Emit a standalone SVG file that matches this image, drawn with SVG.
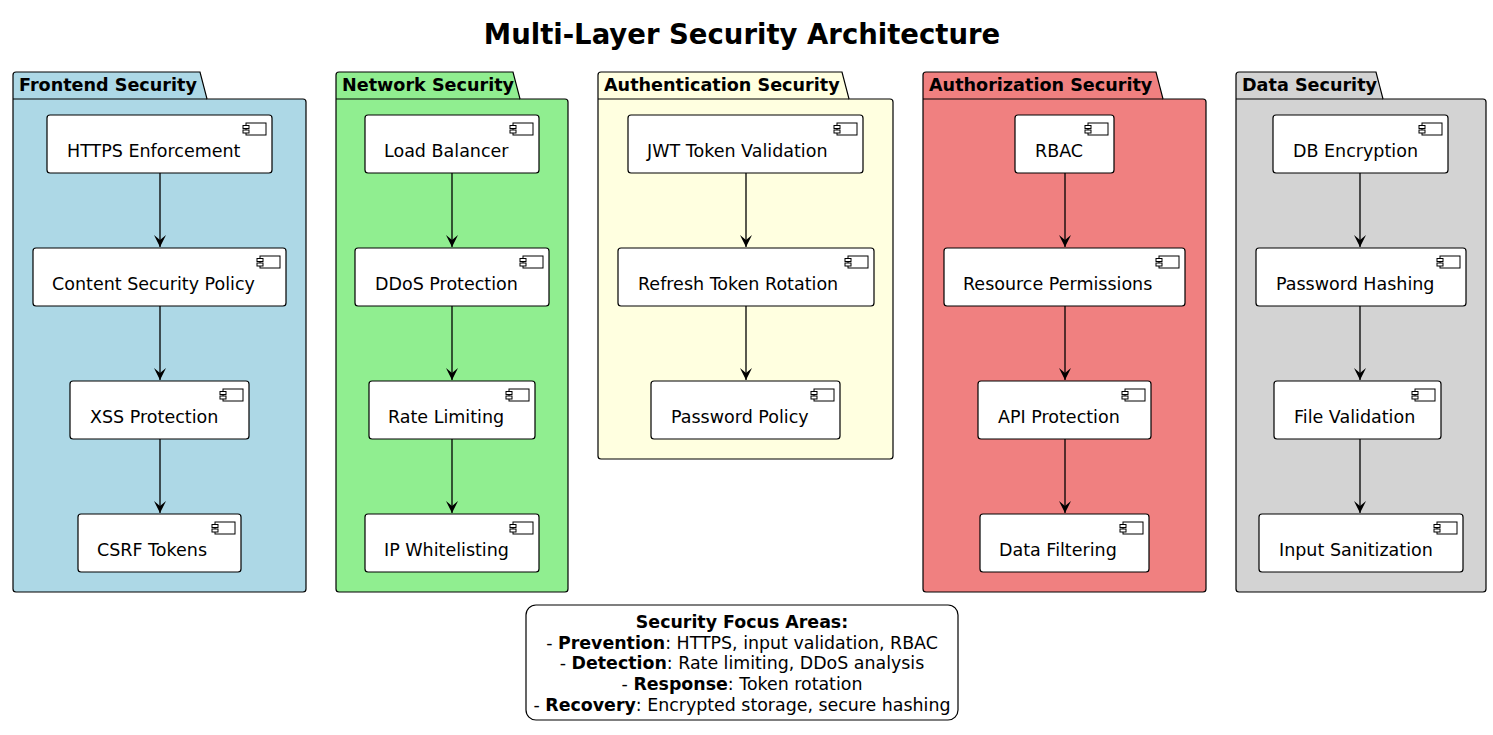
<svg xmlns="http://www.w3.org/2000/svg" width="1493" height="735" viewBox="0 0 1493 735">
<defs>
<style>
.pk{stroke:#000;stroke-width:1.2}
.pt{font-family:"DejaVu Sans",sans-serif;font-weight:bold;font-size:17.6px}
.nd{fill:#fff;stroke:#000;stroke-width:1.2}
.nt{font-family:"DejaVu Sans",sans-serif;font-size:17.5px}
.ic{fill:#fff;stroke:#000;stroke-width:1}
.cn{stroke:#000;stroke-width:1.3;fill:none}
.lg{font-family:"DejaVu Sans",sans-serif;font-size:17.4px;text-anchor:middle}
</style>
<marker id="ah" viewBox="0 0 12 12" refX="12" refY="6" markerWidth="12" markerHeight="12" markerUnits="userSpaceOnUse" orient="auto">
<path d="M0,0 L12,6 L0,12 L5,6 Z" fill="#000"/>
</marker>
<g id="icon"><rect class="ic" x="0" y="0" width="20" height="12"/><rect class="ic" x="-3" y="2.5" width="6" height="3"/><rect class="ic" x="-3" y="7" width="6" height="3"/></g>
</defs>
<rect width="1493" height="735" fill="#fff"/>
<text x="742" y="44" text-anchor="middle" font-family="DejaVu Sans,sans-serif" font-weight="bold" font-size="27.5">Multi-Layer Security Architecture</text>

<g id="pkg-frontend">
<path class="pk" fill="#ADD8E6" d="M16,72 L200,72 L207,99 L303,99 Q306,99 306,102 L306,589 Q306,592 303,592 L16,592 Q13,592 13,589 L13,75 Q13,72 16,72 Z"/>
<line class="pk" x1="13" y1="99" x2="207" y2="99"/>
<text class="pt" x="19" y="91">Frontend Security</text>
</g>
<g id="pkg-network">
<path class="pk" fill="#90EE90" d="M339,72 L513,72 L520,99 L565,99 Q568,99 568,102 L568,589 Q568,592 565,592 L339,592 Q336,592 336,589 L336,75 Q336,72 339,72 Z"/>
<line class="pk" x1="336" y1="99" x2="520" y2="99"/>
<text class="pt" x="342" y="91">Network Security</text>
</g>
<g id="pkg-auth">
<path class="pk" fill="#FFFFE0" d="M601,72 L842,72 L849,99 L890,99 Q893,99 893,102 L893,456 Q893,459 890,459 L601,459 Q598,459 598,456 L598,75 Q598,72 601,72 Z"/>
<line class="pk" x1="598" y1="99" x2="849" y2="99"/>
<text class="pt" x="604" y="91">Authentication Security</text>
</g>
<g id="pkg-authz">
<path class="pk" fill="#F08080" d="M926,72 L1156,72 L1163,99 L1203,99 Q1206,99 1206,102 L1206,589 Q1206,592 1203,592 L926,592 Q923,592 923,589 L923,75 Q923,72 926,72 Z"/>
<line class="pk" x1="923" y1="99" x2="1163" y2="99"/>
<text class="pt" x="929" y="91">Authorization Security</text>
</g>
<g id="pkg-data">
<path class="pk" fill="#D3D3D3" d="M1239,72 L1376,72 L1383,99 L1483,99 Q1486,99 1486,102 L1486,589 Q1486,592 1483,592 L1239,592 Q1236,592 1236,589 L1236,75 Q1236,72 1239,72 Z"/>
<line class="pk" x1="1236" y1="99" x2="1383" y2="99"/>
<text class="pt" x="1242" y="91">Data Security</text>
</g>

<g id="connectors">
<line class="cn" x1="160" y1="173" x2="160" y2="247" marker-end="url(#ah)"/>
<line class="cn" x1="160" y1="306" x2="160" y2="380" marker-end="url(#ah)"/>
<line class="cn" x1="160" y1="439" x2="160" y2="513" marker-end="url(#ah)"/>
<line class="cn" x1="452" y1="173" x2="452" y2="247" marker-end="url(#ah)"/>
<line class="cn" x1="452" y1="306" x2="452" y2="380" marker-end="url(#ah)"/>
<line class="cn" x1="452" y1="439" x2="452" y2="513" marker-end="url(#ah)"/>
<line class="cn" x1="746" y1="173" x2="746" y2="247" marker-end="url(#ah)"/>
<line class="cn" x1="746" y1="306" x2="746" y2="380" marker-end="url(#ah)"/>
<line class="cn" x1="1065" y1="173" x2="1065" y2="247" marker-end="url(#ah)"/>
<line class="cn" x1="1065" y1="306" x2="1065" y2="380" marker-end="url(#ah)"/>
<line class="cn" x1="1065" y1="439" x2="1065" y2="513" marker-end="url(#ah)"/>
<line class="cn" x1="1360" y1="173" x2="1360" y2="247" marker-end="url(#ah)"/>
<line class="cn" x1="1360" y1="306" x2="1360" y2="380" marker-end="url(#ah)"/>
<line class="cn" x1="1360" y1="439" x2="1360" y2="513" marker-end="url(#ah)"/>
</g>

<g id="n-https"><rect class="nd" x="47" y="115" width="225" height="58" rx="3"/><use href="#icon" x="246" y="123"/><text class="nt" x="67" y="157">HTTPS Enforcement</text></g>
<g id="n-csp"><rect class="nd" x="33" y="248" width="253" height="58" rx="3"/><use href="#icon" x="260" y="256"/><text class="nt" x="52" y="290">Content Security Policy</text></g>
<g id="n-xss"><rect class="nd" x="70" y="381" width="179" height="58" rx="3"/><use href="#icon" x="223" y="389"/><text class="nt" x="90" y="423">XSS Protection</text></g>
<g id="n-csrf"><rect class="nd" x="78" y="514" width="163" height="58" rx="3"/><use href="#icon" x="215" y="522"/><text class="nt" x="97" y="556">CSRF Tokens</text></g>

<g id="n-lb"><rect class="nd" x="365" y="115" width="174" height="58" rx="3"/><use href="#icon" x="513" y="123"/><text class="nt" x="384" y="157">Load Balancer</text></g>
<g id="n-ddos"><rect class="nd" x="355" y="248" width="194" height="58" rx="3"/><use href="#icon" x="523" y="256"/><text class="nt" x="375" y="290">DDoS Protection</text></g>
<g id="n-rate"><rect class="nd" x="369" y="381" width="166" height="58" rx="3"/><use href="#icon" x="509" y="389"/><text class="nt" x="388" y="423">Rate Limiting</text></g>
<g id="n-ip"><rect class="nd" x="365" y="514" width="174" height="58" rx="3"/><use href="#icon" x="513" y="522"/><text class="nt" x="384" y="556">IP Whitelisting</text></g>

<g id="n-jwt"><rect class="nd" x="628" y="115" width="235" height="58" rx="3"/><use href="#icon" x="837" y="123"/><text class="nt" x="647" y="157">JWT Token Validation</text></g>
<g id="n-refresh"><rect class="nd" x="618" y="248" width="256" height="58" rx="3"/><use href="#icon" x="848" y="256"/><text class="nt" x="638" y="290">Refresh Token Rotation</text></g>
<g id="n-pwpol"><rect class="nd" x="651" y="381" width="189" height="58" rx="3"/><use href="#icon" x="814" y="389"/><text class="nt" x="671" y="423">Password Policy</text></g>

<g id="n-rbac"><rect class="nd" x="1015" y="115" width="99" height="58" rx="3"/><use href="#icon" x="1088" y="123"/><text class="nt" x="1035" y="157">RBAC</text></g>
<g id="n-resperm"><rect class="nd" x="944" y="248" width="241" height="58" rx="3"/><use href="#icon" x="1159" y="256"/><text class="nt" x="963" y="290">Resource Permissions</text></g>
<g id="n-api"><rect class="nd" x="978" y="381" width="173" height="58" rx="3"/><use href="#icon" x="1125" y="389"/><text class="nt" x="998" y="423">API Protection</text></g>
<g id="n-filter"><rect class="nd" x="980" y="514" width="169" height="58" rx="3"/><use href="#icon" x="1123" y="522"/><text class="nt" x="999" y="556">Data Filtering</text></g>

<g id="n-dbenc"><rect class="nd" x="1273" y="115" width="175" height="58" rx="3"/><use href="#icon" x="1422" y="123"/><text class="nt" x="1293" y="157">DB Encryption</text></g>
<g id="n-pwhash"><rect class="nd" x="1256" y="248" width="210" height="58" rx="3"/><use href="#icon" x="1440" y="256"/><text class="nt" x="1276" y="290">Password Hashing</text></g>
<g id="n-file"><rect class="nd" x="1274" y="381" width="167" height="58" rx="3"/><use href="#icon" x="1415" y="389"/><text class="nt" x="1294" y="423">File Validation</text></g>
<g id="n-input"><rect class="nd" x="1259" y="514" width="204" height="58" rx="3"/><use href="#icon" x="1437" y="522"/><text class="nt" x="1279" y="556">Input Sanitization</text></g>

<g id="legend">
<rect x="526" y="605" width="432" height="115" rx="10" fill="#fff" stroke="#000" stroke-width="1.2"/>
<text class="lg" x="742" y="628" font-weight="bold">Security Focus Areas:</text>
<text class="lg" x="742" y="649">- <tspan font-weight="bold">Prevention</tspan>: HTTPS, input validation, RBAC</text>
<text class="lg" x="742" y="669">- <tspan font-weight="bold">Detection</tspan>: Rate limiting, DDoS analysis</text>
<text class="lg" x="742" y="690">- <tspan font-weight="bold">Response</tspan>: Token rotation</text>
<text class="lg" x="742" y="711">- <tspan font-weight="bold">Recovery</tspan>: Encrypted storage, secure hashing</text>
</g>
</svg>
